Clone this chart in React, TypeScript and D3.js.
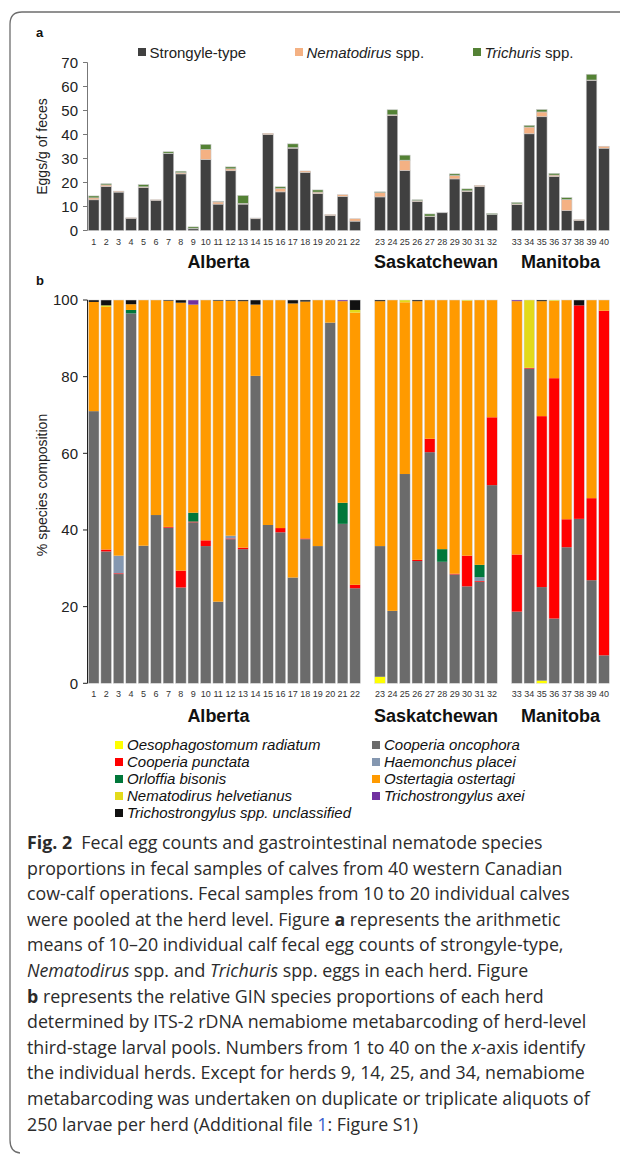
import * as d3 from 'd3'

// ---- panel a: fecal egg counts (eggs/g), one value per herd 1..40
const herds = [
  1, 2, 3, 4, 5, 6, 7, 8, 9, 10, 11, 12, 13, 14, 15, 16, 17, 18, 19, 20,
  21, 22, 23, 24, 25, 26, 27, 28, 29, 30, 31, 32, 33, 34, 35, 36, 37, 38, 39, 40,
]
const provinces = ['Alberta', 'Saskatchewan', 'Manitoba']
const provinceHerdCounts = [22, 10, 8]

const strongyle = [
  12.8, 18.3, 16.0, 5.1, 17.9, 12.6, 32.0, 23.6, 0.7, 29.6, 11.0, 24.9, 11.0, 4.9, 40.0, 16.1, 34.3, 24.2, 15.4, 6.25,
  14.2, 3.9, 14.0, 47.9, 25.0, 12.1, 5.8, 7.4, 21.5, 16.25, 18.3, 6.7, 10.8, 40.3, 47.4, 22.5, 8.3, 4.2, 62.6, 34.3,
]
const nematodirus = [
  0.8, 0.7, 0.4, 0.2, 0.3, 0.2, 0.2, 0.5, 0.2, 4.2, 0.9, 0.8, 0.3, 0.3, 0.5, 1.4, 0.2, 0.6, 0.6, 0.4,
  0.7, 1.0, 1.8, 0.3, 4.3, 0.3, 0.2, 0.2, 1.4, 0.3, 0.5, 0, 0.3, 2.8, 2.0, 0.6, 4.6, 0.3, 0.1, 0.8,
]
const trichuris = [
  0.8, 0.5, 0, 0, 0.9, 0, 0.6, 0.6, 0.6, 2.1, 0.3, 0.8, 3.3, 0, 0, 0.7, 1.6, 0, 0.9, 0,
  0, 0, 0.3, 2.1, 2.1, 0.4, 0.9, 0, 0.7, 0.8, 0, 0.4, 0.6, 0.7, 1.0, 0.7, 0.8, 0, 2.4, 0,
]
const eggLegend = [
  { key: 'strongyle', label: 'Strongyle-type', italic: '', color: '#404040' },
  { key: 'nematodirus', label: ' spp.', italic: 'Nematodirus', color: '#f4b183' },
  { key: 'trichuris', label: ' spp.', italic: 'Trichuris', color: '#548235' },
]
const eggTicks = [0, 10, 20, 30, 40, 50, 60, 70]

// ---- panel b: % species composition per herd (stack order bottom -> top)
const oesophagostomum = [
  0, 0, 0, 0, 0, 0, 0, 0, 0, 0, 0, 0, 0, 0, 0, 0, 0, 0, 0, 0,
  0, 0, 1.7, 0, 0, 0, 0, 0, 0, 0, 0, 0, 0, 0, 0.7, 0, 0, 0, 0, 0,
]
const cOncophora = [
  71.0, 34.4, 28.5, 96.5, 35.9, 43.9, 40.6, 25.0, 42.0, 35.8, 21.3, 37.6, 35.0, 80.2, 41.3, 39.4, 27.6, 37.6, 35.8, 94.1,
  41.6, 24.8, 34.1, 18.9, 54.6, 31.9, 60.3, 31.7, 28.4, 25.3, 26.5, 51.7, 18.7, 82.1, 24.4, 16.9, 35.5, 42.9, 26.9, 7.3,
]
const cPunctata = [
  0, 0.5, 0.2, 0, 0, 0, 0.2, 4.4, 0.2, 1.5, 0, 0.2, 0.4, 0, 0, 1.1, 0, 0.2, 0, 0,
  0, 0.9, 0, 0, 0, 0.3, 3.5, 0, 0.2, 8.0, 0.2, 17.7, 14.9, 0.2, 44.6, 62.7, 7.3, 55.7, 21.4, 89.9,
]
const hPlacei = [
  0, 0, 4.6, 0, 0, 0, 0, 0, 0, 0, 0, 0.7, 0, 0, 0, 0, 0, 0, 0, 0,
  0, 0, 0, 0, 0, 0, 0, 0, 0, 0, 1.0, 0, 0, 0, 0, 0, 0, 0, 0, 0,
]
const oBisonis = [
  0, 0, 0, 0.9, 0, 0, 0, 0, 2.3, 0, 0, 0, 0, 0, 0, 0, 0, 0, 0, 0,
  5.5, 0, 0, 0, 0, 0, 0, 3.3, 0, 0, 3.2, 0, 0, 0, 0, 0, 0, 0, 0, 0,
]
const oOstertagi = [
  28.5, 63.3, 66.7, 1.5, 64.1, 56.1, 59.0, 69.9, 54.3, 62.7, 78.5, 61.3, 64.3, 18.6, 58.7, 59.5, 71.5, 61.8, 64.2, 5.9,
  52.6, 71.0, 63.9, 81.1, 44.8, 67.5, 36.2, 65.0, 71.4, 66.5, 69.1, 30.6, 66.1, 0, 30.0, 20.2, 57.2, 0, 51.7, 2.8,
]
const nHelvetianus = [
  0, 0.4, 0, 0, 0, 0, 0, 0, 0, 0, 0, 0, 0, 0, 0, 0, 0, 0, 0, 0,
  0, 0.7, 0, 0, 0.6, 0, 0, 0, 0, 0.2, 0, 0, 0, 17.7, 0, 0.2, 0, 0, 0, 0,
]
const tAxei = [
  0, 0, 0, 0, 0, 0, 0, 0, 1.2, 0, 0, 0, 0, 0, 0, 0, 0, 0, 0, 0,
  0.3, 0, 0, 0, 0, 0, 0, 0, 0, 0, 0, 0, 0.3, 0, 0, 0, 0, 0, 0, 0,
]
const tSpp = [
  0.5, 1.4, 0, 1.1, 0, 0, 0.2, 0.7, 0, 0, 0.2, 0.2, 0.3, 1.2, 0, 0, 0.9, 0.4, 0, 0,
  0, 2.6, 0.3, 0, 0, 0.3, 0, 0, 0, 0, 0, 0, 0, 0, 0.3, 0, 0, 1.4, 0, 0,
]
const species = [
  { key: 'oeso', label: 'Oesophagostomum radiatum', color: '#ffff00', values: oesophagostomum },
  { key: 'conc', label: 'Cooperia oncophora', color: '#6b6b6b', values: cOncophora },
  { key: 'cpun', label: 'Cooperia punctata', color: '#ff0000', values: cPunctata },
  { key: 'haem', label: 'Haemonchus placei', color: '#8497b0', values: hPlacei },
  { key: 'orl', label: 'Orloffia bisonis', color: '#00773a', values: oBisonis },
  { key: 'ost', label: 'Ostertagia ostertagi', color: '#ff9a00', values: oOstertagi },
  { key: 'nemh', label: 'Nematodirus helvetianus', color: '#e3da1a', values: nHelvetianus },
  { key: 'taxe', label: 'Trichostrongylus axei', color: '#7030a0', values: tAxei },
  { key: 'tspp', label: 'Trichostrongylus spp. unclassified', color: '#111111', values: tSpp },
]
// legend layout order, as printed (two columns)
const legendLeft = ['oeso', 'cpun', 'orl', 'nemh', 'tspp']
const legendRight = ['conc', 'haem', 'ost', 'taxe']
const pctTicks = [0, 20, 40, 60, 80, 100]

// ---- caption, line by line: [text, style]  (b = bold, i = italic, l = link)
const caption: [string, string][][] = [
  [['Fig. 2', 'b'], ['  Fecal egg counts and gastrointestinal nematode species', '']],
  [['proportions in fecal samples of calves from 40 western Canadian', '']],
  [['cow-calf operations. Fecal samples from 10 to 20 individual calves', '']],
  [['were pooled at the herd level. Figure ', ''], ['a', 'b'], [' represents the arithmetic', '']],
  [['means of 10–20 individual calf fecal egg counts of strongyle-type,', '']],
  [['Nematodirus', 'i'], [' spp. and ', ''], ['Trichuris', 'i'], [' spp. eggs in each herd. Figure', '']],
  [['b', 'b'], [' represents the relative GIN species proportions of each herd', '']],
  [['determined by ITS-2 rDNA nemabiome metabarcoding of herd-level', '']],
  [['third-stage larval pools. Numbers from 1 to 40 on the ', ''], ['x', 'i'], ['-axis identify', '']],
  [['the individual herds. Except for herds 9, 14, 25, and 34, nemabiome', '']],
  [['metabarcoding was undertaken on duplicate or triplicate aliquots of', '']],
  [['250 larvae per herd (Additional file ', ''], ['1', 'l'], [': Figure S1)', '']],
]

const W = 620
const H = 1155
const chartFont = '"Liberation Sans", Arial, sans-serif'

export default function App() {
  // slots: herds with one empty slot between provinces
  const slotKeys: string[] = []
  const groups: { name: string; keys: string[] }[] = []
  let hi = 0
  provinceHerdCounts.forEach((n, gi) => {
    const keys: string[] = []
    for (let k = 0; k < n; k++) keys.push(String(herds[hi++]))
    slotKeys.push(...keys)
    groups.push({ name: provinces[gi], keys })
    if (gi < provinceHerdCounts.length - 1) slotKeys.push('gap' + gi)
  })

  const x = d3.scaleBand<string>().domain(slotKeys).range([87.5, 610.2]).paddingInner(0.15).paddingOuter(0.075)
  const yA = d3.scaleLinear().domain([0, 70]).range([230.5, 62.5])
  const yB = d3.scaleLinear().domain([0, 100]).range([683.3, 300])

  const eggRows = herds.map((h, i) => ({
    herd: String(h), strongyle: strongyle[i], nematodirus: nematodirus[i], trichuris: trichuris[i],
  }))
  const eggStack = d3.stack<any>().keys(eggLegend.map(d => d.key))(eggRows)

  const spRows = herds.map((h, i) => {
    const r: any = { herd: String(h) }
    species.forEach(s => { r[s.key] = s.values[i] })
    return r
  })
  const spStack = d3.stack<any>().keys(species.map(s => s.key))(spRows)
  const spByKey = new Map(species.map(s => [s.key, s]))

  const groupCenter = (g: { keys: string[] }, i: number) => {
    const a = x(g.keys[0])! + x.bandwidth() / 2
    const b = x(g.keys[g.keys.length - 1])! + x.bandwidth() / 2
    return (a + b) / 2 - (i === 0 ? 6 : 0)
  }

  const herdLabels = (y: number) => herds.map(h => (
    <text key={h} x={x(String(h))! + x.bandwidth() / 2} y={y} fontSize={9} textAnchor="middle" fill="#333">{h}</text>
  ))

  const groupLabels = (y: number) => groups.map((g, i) => (
    <text key={g.name} x={groupCenter(g, i)} y={y} fontSize={18} fontWeight="bold" textAnchor="middle" fill="#111">{g.name}</text>
  ))

  const legendRow = (keys: string[], sx: number) => keys.map((k, i) => {
    const s = spByKey.get(k)!
    const cy = 745 + i * 17
    return (
      <g key={k}>
        <rect x={sx} y={cy - 4} width={8} height={8} fill={s.color} />
        <text x={sx + 12} y={cy + 5} fontSize={15} fontStyle="italic" fill="#111">{s.label}</text>
      </g>
    )
  })

  return (
    <div style={{ position: 'absolute', left: 0, top: 0 }}>
      <svg width={W} height={H} style={{ display: 'block', background: '#fff' }} fontFamily={chartFont}>
        {/* frame */}
        <path d="M 620 12 H 22 Q 10 12 10 24 V 1140 Q 10 1152 20 1153" fill="none" stroke="#6d6d6d" strokeWidth={1.3} />

        {/* ---------- panel a ---------- */}
        <text x={36} y={37} fontSize={13} fontWeight="bold" fill="#111">a</text>
        {eggLegend.map((d, i) => {
          const sx = [138, 295, 473][i]
          return (
            <g key={d.key}>
              <rect x={sx} y={48} width={8} height={8} fill={d.color} />
              <text x={sx + 11.5} y={57.5} fontSize={15} fill="#222">
                {d.italic && <tspan fontStyle="italic">{d.italic}</tspan>}
                {d.label}
              </text>
            </g>
          )
        })}
        <g>
          <line x1={87.5} x2={87.5} y1={yA(70)} y2={yA(0)} stroke="#777" />
          {eggTicks.map(t => (
            <g key={t}>
              <line x1={83} x2={87.5} y1={yA(t)} y2={yA(t)} stroke="#777" />
              <text x={78} y={yA(t) + 5.3} fontSize={15} textAnchor="end" fill="#222">{t}</text>
            </g>
          ))}
          <text transform={`translate(47,${(yA(0) + yA(70)) / 2}) rotate(-90)`} fontSize={14} textAnchor="middle" fill="#222">Eggs/g of feces</text>
        </g>
        {eggStack.map((layer, li) => (
          <g key={layer.key} fill={eggLegend[li].color}>
            {layer.map(d => (d[1] - d[0] > 0 ? (
              <rect key={d.data.herd} x={x(d.data.herd)} y={yA(d[1])} width={x.bandwidth()}
                height={yA(d[0]) - yA(d[1])} stroke="#c8c8c8" strokeWidth={0.6} />
            ) : null))}
          </g>
        ))}
        {herdLabels(245)}
        {groupLabels(268)}

        {/* ---------- panel b ---------- */}
        <text x={36} y={285} fontSize={13} fontWeight="bold" fill="#111">b</text>
        <g>
          <line x1={87.5} x2={87.5} y1={yB(100)} y2={yB(0)} stroke="#222" />
          {pctTicks.map(t => (
            <g key={t}>
              <line x1={83} x2={87.5} y1={yB(t)} y2={yB(t)} stroke="#222" />
              <text x={78} y={yB(t) + 5.3} fontSize={15} textAnchor="end" fill="#222">{t}</text>
            </g>
          ))}
          <text transform={`translate(47,485) rotate(-90)`} fontSize={14} textAnchor="middle" fill="#222">% species composition</text>
        </g>
        {spStack.map((layer, li) => (
          <g key={layer.key} fill={species[li].color}>
            {layer.map(d => (d[1] - d[0] > 0 ? (
              <rect key={d.data.herd} x={x(d.data.herd)} y={yB(d[1])} width={x.bandwidth()}
                height={yB(d[0]) - yB(d[1])} />
            ) : null))}
          </g>
        ))}
        {herds.map(h => (
          <rect key={h} x={x(String(h))} y={yB(100)} width={x.bandwidth()} height={yB(0) - yB(100)}
            fill="none" stroke="#d8d8d8" strokeWidth={0.5} />
        ))}
        {herdLabels(697)}
        {groupLabels(722)}

        {legendRow(legendLeft, 115)}
        {legendRow(legendRight, 372)}

        {/* ---------- caption ---------- */}
        <g fontFamily='"Open Sans", "Noto Sans", sans-serif' fontSize={17.8} fill="#2b2b2b">
          {caption.map((line, i) => (
            <text key={i} x={27} y={849 + i * 25.6} xmlSpace="preserve">
              {line.map(([t, s], j) => (
                <tspan key={j}
                  fontWeight={s === 'b' ? 'bold' : undefined}
                  fontStyle={s === 'i' ? 'italic' : undefined}
                  fill={s === 'l' ? '#3a5fcd' : undefined}>{t}</tspan>
              ))}
            </text>
          ))}
        </g>
      </svg>
    </div>
  )
}
